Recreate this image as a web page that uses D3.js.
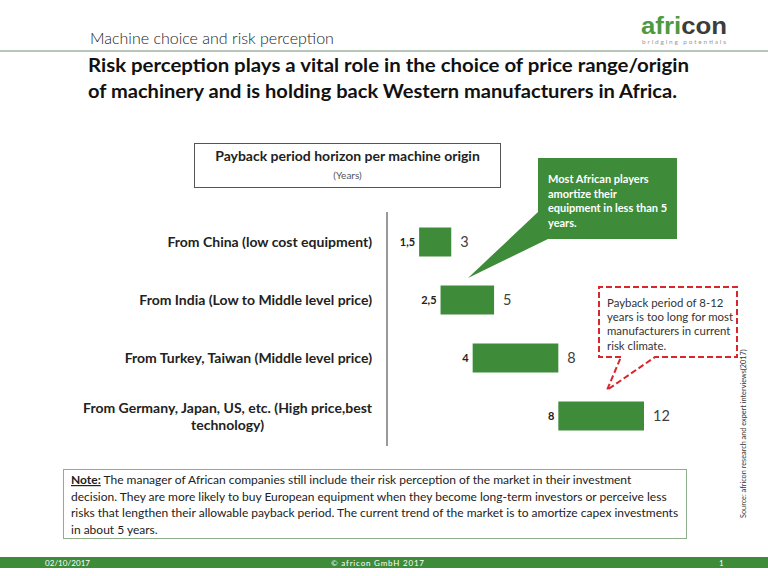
<!DOCTYPE html>
<html>
<head>
<meta charset="utf-8">
<script src="https://cdn.jsdelivr.net/npm/d3@7"></script>
<style>
  body { margin: 0; background: #fff; }
  svg { display: block; font-family: Lato, "Open Sans", sans-serif; }
</style>
</head>
<body>
<svg id="slide" width="768" height="576"></svg>
<script>
// chart data
const origins = [
  "From China (low cost equipment)",
  "From India (Low to Middle level price)",
  "From Turkey, Taiwan (Middle level price)",
  "From Germany, Japan, US, etc. (High price,best technology)"
];
const originLines = [
  ["From China (low cost equipment)"],
  ["From India (Low to Middle level price)"],
  ["From Turkey, Taiwan (Middle level price)"],
  ["From Germany, Japan, US, etc. (High price,best", "technology)"]
];
const minYears = [1.5, 2.5, 4, 8];
const maxYears = [3, 5, 8, 12];

const titleLines = [
  "Risk perception plays a vital role in the choice of price range/origin",
  "of machinery and is holding back Western manufacturers in Africa."
];
const greenNote = ["Most African players", "amortize their", "equipment in less than 5", "years."];
const redNote = ["Payback period of 8-12", "years is too long for most", "manufacturers in current", "risk climate."];
const noteLines = [
  "The manager of African companies still include their risk perception of the market  in their investment",
  "decision. They are more likely to buy European equipment  when they become long-term investors or perceive less",
  "risks that lengthen their allowable payback period. The current  trend of the market  is to amortize capex investments",
  "in about 5 years."
];

const green = "#3e8b3a";
const svg = d3.select("#slide");
const deLocale = d3.formatLocale({ decimal: ",", thousands: ".", grouping: [3], currency: ["", ""] });
const fmt = deLocale.format("~g");

// header
svg.append("text").attr("x", 90).attr("y", 44)
  .attr("font-size", 16).attr("font-weight", 300).attr("fill", "#222")
  .text("Machine choice and risk perception");

const logo = svg.append("text").attr("x", 641).attr("y", 34)
  .attr("font-family", "Liberation Sans, Arial, sans-serif")
  .attr("font-size", 23).attr("font-weight", "bold")
  .attr("textLength", 86).attr("lengthAdjust", "spacingAndGlyphs");
logo.append("tspan").attr("fill", "#4c9a43").text("afri");
logo.append("tspan").attr("fill", "#3c3c3c").text("con");
svg.append("text").attr("x", 642).attr("y", 44)
  .attr("font-size", 6.5).attr("fill", "#999")
  .attr("textLength", 84).attr("lengthAdjust", "spacing")
  .text("bridging potentials");

svg.append("line").attr("x1", 0).attr("x2", 768).attr("y1", 51).attr("y2", 51)
  .attr("stroke", "#6f8f70").attr("stroke-width", 1.2);

svg.selectAll(".title").data(titleLines).join("text")
  .attr("class", "title")
  .attr("x", 88).attr("y", (d, i) => 72 + i * 26)
  .attr("font-size", 19).attr("font-weight", "bold").attr("fill", "#111")
  .attr("textLength", (d, i) => i === 0 ? 601 : 589)
  .attr("lengthAdjust", "spacingAndGlyphs")
  .text(d => d);

// chart title box
svg.append("rect").attr("x", 194.5).attr("y", 143.5).attr("width", 306).attr("height", 44)
  .attr("fill", "none").attr("stroke", "#555").attr("stroke-width", 1);
svg.append("text").attr("x", 347.5).attr("y", 161).attr("text-anchor", "middle")
  .attr("font-size", 14).attr("font-weight", "bold").attr("fill", "#222")
  .text("Payback period horizon per machine origin");
svg.append("text").attr("x", 347.5).attr("y", 179).attr("text-anchor", "middle")
  .attr("font-size", 10).attr("fill", "#555")
  .text("(Years)");

// scales
const x = d3.scaleLinear().domain([0, 12]).range([387, 644]);
const y = d3.scaleBand().domain(origins).range([213, 445]).paddingInner(0.5).paddingOuter(0.25);

svg.append("line").attr("x1", x(0)).attr("x2", x(0)).attr("y1", 212).attr("y2", 446)
  .attr("stroke", "#777").attr("stroke-width", 1.5);

const rows = origins.map((o, i) => ({ origin: o, lines: originLines[i], lo: minYears[i], hi: maxYears[i] }));

// category labels; wrapped labels are centred under their first line
const labels = svg.selectAll(".cat").data(rows).join("text")
  .attr("class", "cat")
  .attr("font-size", 14).attr("font-weight", "bold").attr("fill", "#222");
labels.each(function (d) {
  const t = d3.select(this);
  const cy = y(d.origin) + y.bandwidth() / 2 + 5;
  const n = d.lines.length;
  const first = t.append("tspan").attr("x", 372).attr("text-anchor", "end")
    .attr("y", cy - (n - 1) * 8.5).text(d.lines[0]);
  if (n > 1) {
    const w = first.node().getComputedTextLength();
    t.append("tspan").attr("x", 372 - w / 2).attr("text-anchor", "middle")
      .attr("y", cy + 8.5).text(d.lines[1]);
  }
});

svg.selectAll(".bar").data(rows).join("rect")
  .attr("class", "bar")
  .attr("x", d => x(d.lo))
  .attr("y", d => y(d.origin))
  .attr("width", d => x(d.hi) - x(d.lo))
  .attr("height", y.bandwidth())
  .attr("fill", green);

svg.selectAll(".lo").data(rows).join("text")
  .attr("class", "lo")
  .attr("x", d => x(d.lo) - 4)
  .attr("y", d => y(d.origin) + y.bandwidth() / 2 + 4)
  .attr("text-anchor", "end")
  .attr("font-size", 11).attr("font-weight", "bold").attr("fill", "#222")
  .text(d => fmt(d.lo));

svg.selectAll(".hi").data(rows).join("text")
  .attr("class", "hi")
  .attr("x", d => x(d.hi) + 9)
  .attr("y", d => y(d.origin) + y.bandwidth() / 2 + 5)
  .attr("font-size", 14.5).attr("fill", "#404040")
  .text(d => fmt(d.hi));

// green callout
svg.append("path")
  .attr("d", "M538,158 H677 V239 H548 L468,278 L538,212 Z")
  .attr("fill", green);
svg.selectAll(".gn").data(greenNote).join("text")
  .attr("class", "gn")
  .attr("x", 548).attr("y", (d, i) => 183 + i * 14.5)
  .attr("font-size", 11).attr("font-weight", "bold").attr("fill", "#fff")
  .text(d => d);

// red dashed callout
svg.append("path")
  .attr("d", "M621,357 H599 V287 H737 V357 H655 L607,390 L621,357")
  .attr("fill", "#fff").attr("stroke", "#d9262c").attr("stroke-width", 2)
  .attr("stroke-dasharray", "6,3");
svg.selectAll(".rn").data(redNote).join("text")
  .attr("class", "rn")
  .attr("x", 607).attr("y", (d, i) => 307 + i * 14.2)
  .attr("font-size", 11.4).attr("fill", "#333")
  .text(d => d);

// source
svg.append("text")
  .attr("transform", "translate(746,518) rotate(-90)")
  .attr("font-size", 7.3).attr("fill", "#333")
  .text("Source: africon research  and expert interviews(2017)");

// note box
svg.append("rect").attr("x", 63.5).attr("y", 469.5).attr("width", 623).attr("height", 69)
  .attr("fill", "#fff").attr("stroke", "#8fae8c").attr("stroke-width", 1);
const note = svg.selectAll(".nt").data(noteLines).join("text")
  .attr("class", "nt")
  .attr("x", 71).attr("y", (d, i) => 484 + i * 16.5)
  .attr("font-size", 12).attr("fill", "#222");
note.filter((d, i) => i === 0).append("tspan")
  .attr("font-weight", "bold").attr("text-decoration", "underline").text("Note:");
note.append("tspan").text((d, i) => (i === 0 ? "  " : "") + d);

// footer
svg.append("rect").attr("x", 0).attr("y", 557).attr("width", 768).attr("height", 11).attr("fill", green);
const foot = [["02/10/2017", 45, "start", 45], ["\u00a9 africon GmbH 2017", 331, "start", 93], ["1", 719, "start", null]];
svg.selectAll(".ft").data(foot).join("text")
  .attr("class", "ft")
  .attr("x", d => d[1]).attr("y", 565.5).attr("text-anchor", d => d[2])
  .attr("font-size", 8).attr("fill", "#fff")
  .attr("textLength", d => d[3])
  .attr("lengthAdjust", "spacing")
  .text(d => d[0]);
</script>
</body>
</html>
